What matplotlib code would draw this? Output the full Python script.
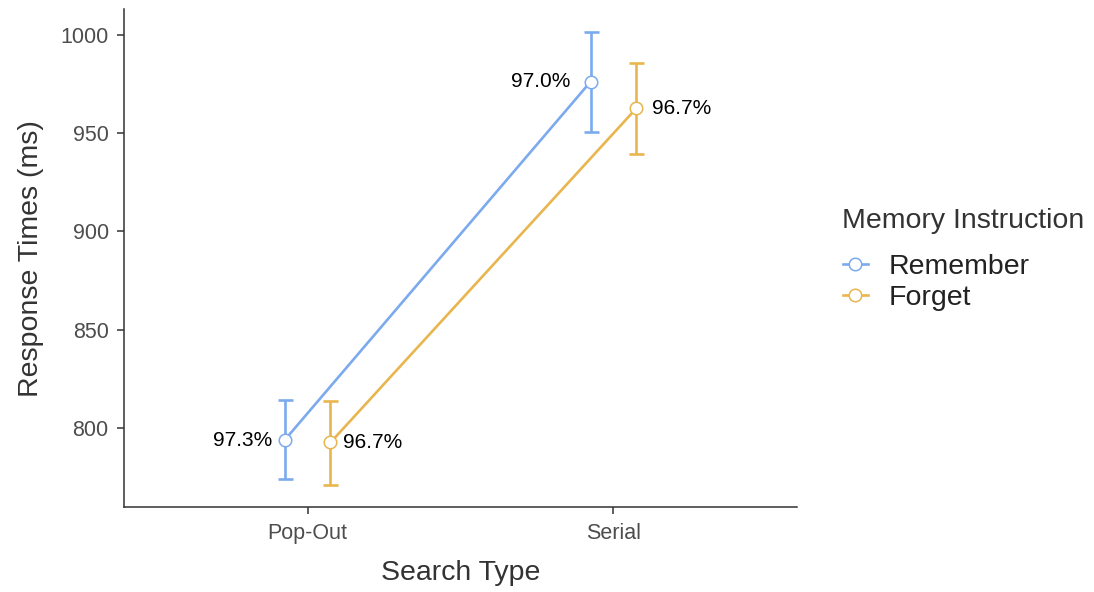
import matplotlib
matplotlib.use("Agg")
import matplotlib.pyplot as plt
from matplotlib.lines import Line2D
import numpy as np

plt.rcParams['font.family'] = ['Liberation Sans', 'DejaVu Sans']

# Data
search_types = ["Pop-Out", "Serial"]
groups = ["Remember", "Forget"]
rt_remember = [793.7, 976.2]
rt_forget = [792.5, 962.7]
lo_remember = [773.7, 950.8]
hi_remember = [814.1, 1001.7]
lo_forget = [770.8, 939.4]
hi_forget = [813.4, 985.9]
acc_remember = ["97.3%", "97.0%"]
acc_forget = ["96.7%", "96.7%"]

colors = {"Remember": "#7CAAEE", "Forget": "#E9B54E"}
dodge = {"Remember": -0.075, "Forget": 0.075}
LW = 1.9

W, H = 1094, 592
fig = plt.figure(figsize=(W / 100, H / 100), dpi=100)
ax = fig.add_axes([124 / W, 1 - 507.3 / H, (797 - 124) / W, (507.3 - 9.3) / H])

base = np.arange(1, len(search_types) + 1)
series = {
    "Remember": (rt_remember, lo_remember, hi_remember, acc_remember),
    "Forget": (rt_forget, lo_forget, hi_forget, acc_forget),
}

# label placement: (horizontal alignment, offset in px) per group and category
label_pos = {
    "Remember": [("right", -12), ("right", -20)],
    "Forget": [("left", 13), ("left", 16)],
}

for g in groups:
    rt, lo, hi, acc = series[g]
    xs = base + dodge[g]
    rt = np.array(rt)
    c = colors[g]
    ax.plot(xs, rt, color=c, lw=LW, zorder=2, solid_capstyle="butt")
    ax.errorbar(xs, rt, yerr=[rt - np.array(lo), np.array(hi) - rt], fmt="none",
                ecolor=c, elinewidth=LW, capsize=5.4, capthick=LW, zorder=3)
    ax.plot(xs, rt, "o", ms=9, mfc="white", mec=c, mew=1.1, zorder=4, ls="none")
    for i, (x, y, t) in enumerate(zip(xs, rt, acc)):
        ha, off = label_pos[g][i]
        ax.annotate(t, (x, y), xytext=(off * 0.72, 0), textcoords="offset points",
                    ha=ha, va="center", fontsize=15, color="black")

ax.set_xlim(0.4, 2.6)
ax.set_ylim(759.5, 1013.1)
ax.set_xticks(base)
ax.set_xticklabels(search_types)
ax.set_yticks([800, 850, 900, 950, 1000])

for s in ["top", "right"]:
    ax.spines[s].set_visible(False)
for s in ["left", "bottom"]:
    ax.spines[s].set_color("#333333")
    ax.spines[s].set_linewidth(1.1)

ax.tick_params(axis="both", length=5, width=1.1, color="#333333",
               labelsize=15.5, labelcolor="#4D4D4D", pad=6)

ax.set_xlabel("Search Type", fontsize=20.5, color="#333333", labelpad=12)
ax.set_ylabel("Response Times (ms)", fontsize=20.5, color="#333333", labelpad=12)

# Legend: title drawn separately so the gap below it can be set freely
fig.text(842 / W, 1 - 221 / H, "Memory Instruction", fontsize=20.5,
         color="#333333", ha="left", va="center")
handles = [Line2D([0], [0], color=colors[g], lw=LW, marker="o", ms=9,
                  mfc="white", mec=colors[g], mew=1.1) for g in groups]
leg = fig.legend(handles, groups, loc="upper left",
                 bbox_to_anchor=(832 / W, 1 - 243 / H), frameon=False,
                 fontsize=20.5, handlelength=0.85,
                 handletextpad=0.75, labelspacing=0.17, borderaxespad=0)
for t in leg.get_texts():
    t.set_color("#222222")

fig.savefig("out.png", dpi=100, facecolor="white")
